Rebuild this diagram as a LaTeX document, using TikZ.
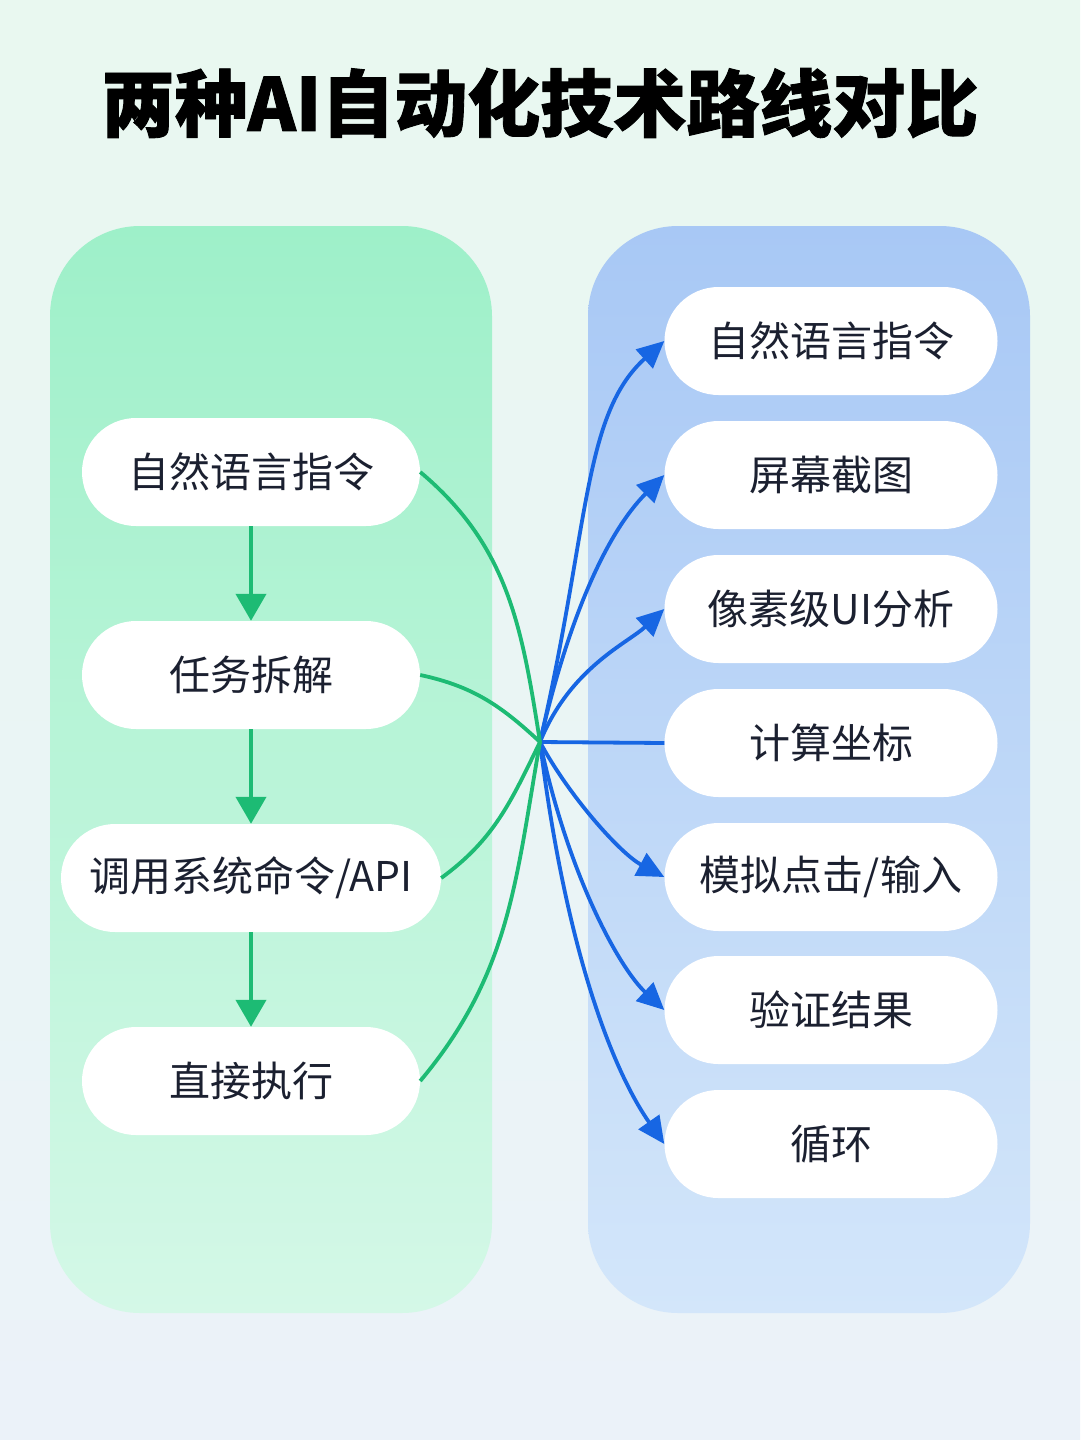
\documentclass[tikz,border=0pt]{standalone}
\usepackage{fontspec}
\setmainfont{Noto Sans CJK SC}[BoldFeatures={FakeBold=1.2}]
\usetikzlibrary{arrows.meta}
\definecolor{bgtop}{HTML}{E9F8F0}
\definecolor{bgbot}{HTML}{EBF2F9}
\definecolor{gtop}{HTML}{9EF0C9}
\definecolor{gbot}{HTML}{D4F8E7}
\definecolor{btop}{HTML}{A8C8F5}
\definecolor{bbot}{HTML}{D3E6FA}
\definecolor{gline}{HTML}{1DBB74}
\definecolor{bline}{HTML}{1766E3}
\definecolor{txt}{HTML}{1B2030}
\tikzset{
  pill/.style={fill=white, rounded corners=54pt, minimum height=108pt, inner sep=0pt,
    text=txt, font=\fontsize{41}{45}\selectfont, align=center},
  lpill/.style={pill, minimum width=338pt},
  rpill/.style={pill, minimum width=333pt},
  gflow/.style={draw=gline, line width=4.2pt, -{Triangle[length=27pt,width=30pt]}},
  gcurve/.style={draw=gline, line width=3.8pt},
  bcurve/.style={draw=bline, line width=3.8pt, -{Triangle[length=27pt,width=25pt]}},
  bplain/.style={draw=bline, line width=3.8pt},
  panel/.style={rounded corners=90pt}
}
\begin{document}
\begin{tikzpicture}[x=1pt,y=1pt]
\useasboundingbox (0,0) rectangle (1080,-1440);
\shade[top color=bgtop, bottom color=bgbot] (0,0) rectangle (1080,-1440);
% title
\node[text=black, font=\fontsize{73}{80}\selectfont\bfseries] (title) at (540,-103) {两种AI自动化技术路线对比};
% panels
\shade[panel, top color=gtop, bottom color=gbot] (50,-226) rectangle (492,-1313);
\shade[panel, top color=btop, bottom color=bbot] (588,-226) rectangle (1030,-1313);
% left nodes
\node[lpill] (L1) at (251,-472) {自然语言指令};
\node[lpill] (L2) at (251,-675) {任务拆解};
\node[pill, minimum width=380pt] (L3) at (251,-878) {调用系统命令/API};
\node[lpill] (L4) at (251,-1081) {直接执行};
% right nodes
\node[rpill] (R1) at (831,-341) {自然语言指令};
\node[rpill] (R2) at (831,-475) {屏幕截图};
\node[rpill] (R3) at (831,-609) {像素级UI分析};
\node[rpill] (R4) at (831,-743) {计算坐标};
\node[rpill] (R5) at (831,-877) {模拟点击/输入};
\node[rpill] (R6) at (831,-1010) {验证结果};
\node[rpill] (R7) at (831,-1144) {循环};
\coordinate (hub) at (540,-742);
% left flow arrows
\draw[gflow] (L1.south) -- (L2.north);
\draw[gflow] (L2.south) -- (L3.north);
\draw[gflow] (L3.south) -- (L4.north);
% blue arrows
\draw[bcurve] (hub) .. controls +(77:220) and +(-138:110) .. (R1.west);
\draw[bcurve] (hub) .. controls +(77:150) and +(-135:70) .. (R2.west);
\draw[bcurve] (hub) .. controls +(68:80) and +(-137:50) .. (R3.west);
\draw[bplain] (hub) -- (R4.west);
\draw[bcurve] (hub) .. controls +(-62:60) and +(152:50) .. (R5.west);
\draw[bcurve] (hub) .. controls +(-78:140) and +(137:60) .. (R6.west);
\draw[bcurve] (hub) .. controls +(-83:200) and +(125:95) .. (R7.west);
% green curves
\draw[gcurve] (L1.east) to[out=-40, in=99] (hub);
\draw[gcurve] (L2.east) to[out=-12, in=137] (hub);
\draw[gcurve] (L3.east) to[out=36, in=-116] (hub);
\draw[gcurve] (L4.east) to[out=50, in=-100] (hub);
\end{tikzpicture}
\end{document}
